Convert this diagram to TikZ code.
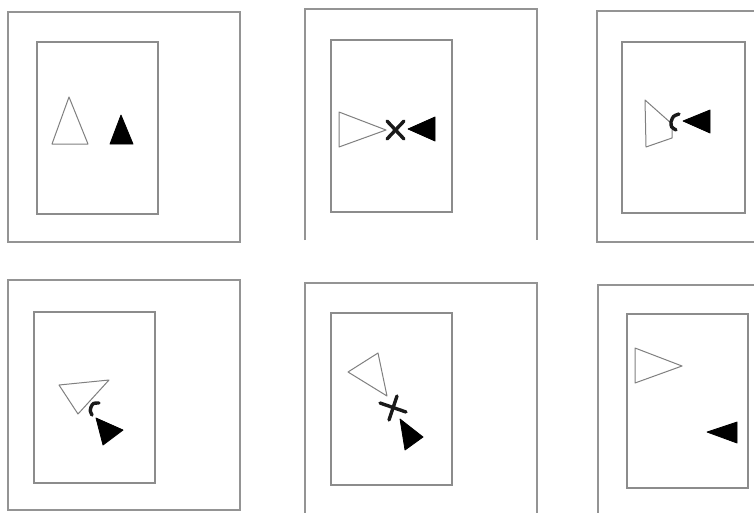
\documentclass[tikz,border=0pt]{standalone}
\usepackage{tikz}

\begin{document}
\begin{tikzpicture}[
        x=1pt, y=-1pt,
        frame/.style={draw=black!42, line width=1.6pt},
        page/.style={draw=black!45, line width=1.4pt},
        ghost/.style={draw=black!50, line width=1pt, line join=round},
        solidtri/.style={fill=black, draw=black, line width=0.8pt, line join=round},
        hit/.style={draw=black!90, line width=3.4pt, line cap=round}
    ]
        \clip (0,0) rectangle (754,512);
        \fill[white] (0,0) rectangle (754,512);

        % top row
        \draw[frame] (8,12) rectangle (240,242);
        \draw[page] (37,42) rectangle (158,214);
        \draw[ghost] (69,97) -- (52,144) -- (88,144) -- cycle;
        \draw[solidtri] (121,115) -- (110,144) -- (133,144) -- cycle;

        \draw[frame] (305,240) -- (305,9) -- (537,9) -- (537,240);
        \draw[page] (331,40) rectangle (452,212);
        \draw[ghost] (339,112) -- (386,130) -- (339,147) -- cycle;
        \draw[hit] (387,121) -- (404,139);
        \draw[hit] (387,139) -- (404,121);
        \draw[solidtri] (408,129) -- (435,117) -- (435,141) -- cycle;

        \draw[frame] (760,11) -- (597,11) -- (597,242) -- (760,242);
        \draw[page] (622,42) rectangle (745,213);
        \draw[ghost] (645,100) -- (646,147) -- (672,138) -- (672,124) -- cycle;
        \draw[hit] (679,114) .. controls (673,116) .. (671,122) .. controls (671,127) .. (676,130);
        \draw[solidtri] (683,121) -- (710,110) -- (710,133) -- cycle;

        % bottom row
        \draw[frame] (8,280) rectangle (240,510);
        \draw[page] (34,312) rectangle (155,483);
        \draw[ghost] (59,385) -- (109,380) -- (78,414) -- cycle;
        \draw[hit] (99,403) .. controls (93,403) .. (91,407) .. controls (90,411) .. (92,415);
        \draw[solidtri] (96,418) -- (123,430) -- (103,445) -- cycle;

        \draw[frame] (305,520) -- (305,283) -- (537,283) -- (537,520);
        \draw[page] (331,313) rectangle (452,485);
        \draw[ghost] (348,372) -- (378,353) -- (387,396) -- cycle;
        \draw[hit] (380,403) -- (406,412);
        \draw[hit] (397,396) -- (389,420);
        \draw[solidtri] (400,419) -- (423,437) -- (405,450) -- cycle;

        \draw[frame] (760,285) -- (598,285) -- (598,520);
        \draw[page] (627,314) rectangle (748,488);
        \draw[ghost] (635,348) -- (635,383) -- (682,366) -- cycle;
        \draw[solidtri] (707,432) -- (737,422) -- (737,443) -- cycle;
    \end{tikzpicture}
\end{document}
